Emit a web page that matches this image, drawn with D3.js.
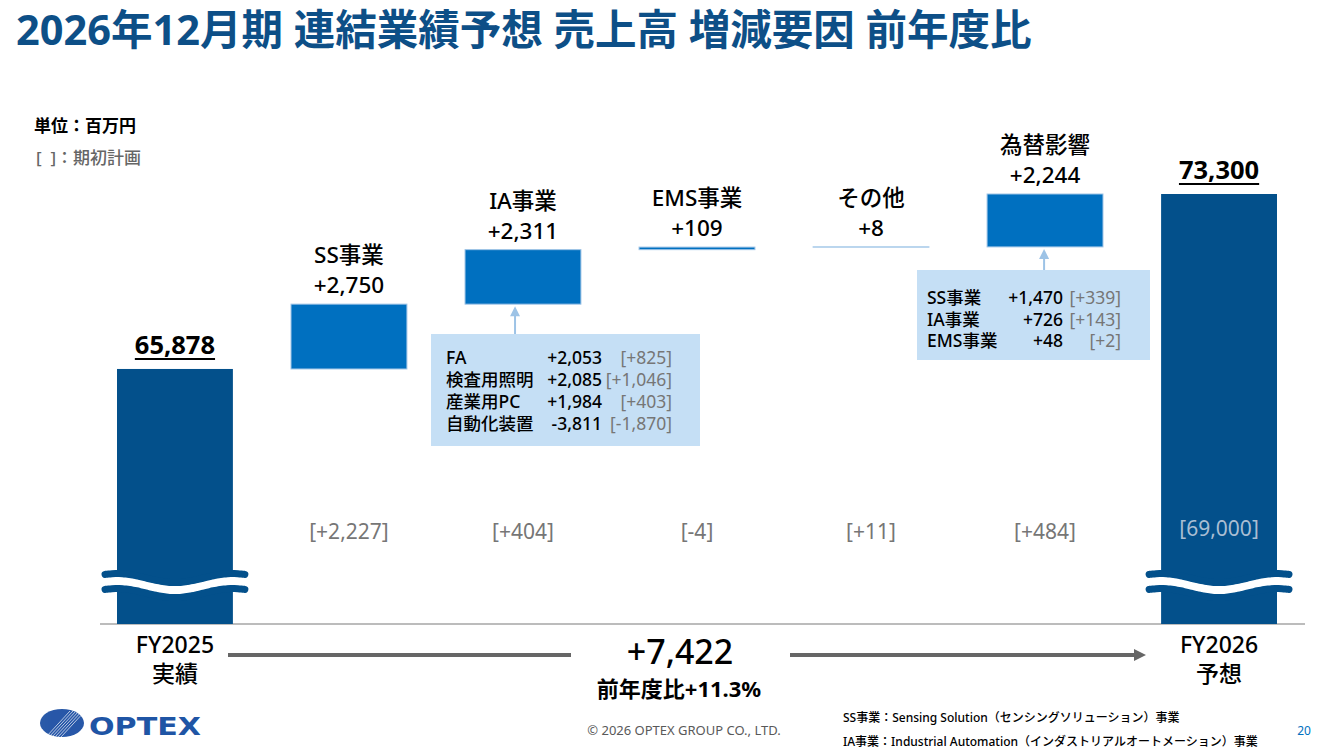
<!DOCTYPE html>
<html lang="ja">
<head>
<meta charset="utf-8">
<script src="https://cdn.jsdelivr.net/npm/d3@7"></script>
<style>
  html, body { margin: 0; padding: 0; background: #ffffff; }
  svg { display: block; }
  text { font-family: "Noto Sans", "Noto Sans CJK JP", sans-serif; }
</style>
</head>
<body>
<svg id="chart" width="1321" height="754"></svg>
<script>
// chart data
const categories = ["FY2025", "SS事業", "IA事業", "EMS事業", "その他", "為替影響", "FY2026"];
const bottomLabels = ["実績", null, null, null, null, null, "予想"];
const startTotal = 65878;
const endTotal = 73300;
const deltas = [null, 2750, 2311, 109, 8, 2244, null];
const planValues = [null, 2227, 404, -4, 11, 484, 69000];

// IA breakdown box
const iaSegments = ["FA", "検査用照明", "産業用PC", "自動化装置"];
const iaValues = [2053, 2085, 1984, -3811];
const iaPlan = [825, 1046, 403, -1870];

// FX breakdown box
const fxSegments = ["SS事業", "IA事業", "EMS事業"];
const fxValues = [1470, 726, 48];
const fxPlan = [339, 143, 2];

const totalChange = 7422;
const totalChangePct = 11.3;

const svg = d3.select("#chart");
const darkBlue = "#03508b";
const midBlue = "#0070c0";
const lightBlue = "#9dc3e6";
const boxFill = "#c5dff5";
const gray = "#767676";

// plain hyphen for negatives, like the slide
const locale = d3.formatLocale({ decimal: ".", thousands: ",", grouping: [3], currency: ["", ""], minus: "-" });
const fmt = locale.format(",");
const signed = v => (v >= 0 ? "+" : "") + fmt(v);

// scales
const x = d3.scaleBand()
    .domain(categories)
    .range([117, 1277])
    .paddingInner(0.334)
    .paddingOuter(0);

const y = d3.scaleLinear()
    .domain([55060, 73300])
    .range([624, 194]);

// build waterfall rows
let running = startTotal;
const rows = categories.map((c, i) => {
    if (i === 0) return { cat: c, lo: y.domain()[0], hi: startTotal, total: true, value: startTotal };
    if (i === categories.length - 1) return { cat: c, lo: y.domain()[0], hi: endTotal, total: true, value: endTotal };
    const lo = running;
    running += deltas[i];
    return { cat: c, lo: lo, hi: running, total: false, value: deltas[i] };
});

// title
svg.append("text")
    .attr("x", 16)
    .attr("y", 45)
    .text("2026年12月期 連結業績予想 売上高 増減要因 前年度比")
    .style("font-size", "41.5px")
    .style("font-weight", "bold")
    .style("fill", "#0d4f87");

// unit notes
svg.append("text")
    .attr("x", 34).attr("y", 132)
    .text("単位：百万円")
    .style("font-size", "17px")
    .style("font-weight", "bold")
    .style("fill", "#000");

svg.append("text")
    .attr("x", 36).attr("y", 164)
    .text("[\u00a0\u00a0]：期初計画")
    .style("font-size", "17px")
    .style("font-weight", "500")
    .style("fill", "#666");

// baseline
svg.append("line")
    .attr("x1", 100).attr("x2", 1305)
    .attr("y1", y.range()[0]).attr("y2", y.range()[0])
    .attr("stroke", "#a6a6a6")
    .attr("stroke-width", 1.5);

// bars
svg.selectAll("rect.bar")
    .data(rows)
    .join("rect")
    .attr("class", "bar")
    .attr("x", d => x(d.cat))
    .attr("width", x.bandwidth())
    .attr("y", d => y(d.hi))
    .attr("height", d => Math.abs(y(d.lo) - y(d.hi)))
    .attr("fill", d => d.total ? darkBlue : midBlue)
    .attr("stroke", d => d.total ? "none" : lightBlue)
    .attr("stroke-width", 1);

// wave break on the total bars
const waveLine = d3.line().curve(d3.curveBasis);
function wavePath(d, yc) {
    const x0 = x(d.cat), w = x.bandwidth(), cx = x0 + w / 2;
    const pts = d3.range(0, 41).map(k => {
        const px = x0 - 12 + (w + 24) * k / 40;
        return [px, yc + 4.5 * Math.cos(2 * Math.PI * (px - cx) / w)];
    });
    return waveLine(pts);
}
const totals = rows.filter(d => d.total);
totals.forEach(d => {
    svg.append("path").attr("d", wavePath(d, 585.5))
        .attr("fill", "none").attr("stroke", "#fff").attr("stroke-width", 9);
    [578, 593].forEach(yc => {
        svg.append("path").attr("d", wavePath(d, yc))
            .attr("fill", "none")
            .attr("stroke", darkBlue)
            .attr("stroke-width", 7)
            .attr("stroke-linecap", "round");
    });
});

// total value labels (underlined)
totals.forEach(d => {
    const cx = x(d.cat) + x.bandwidth() / 2;
    const t = svg.append("text")
        .attr("x", cx)
        .attr("y", y(d.hi) - 15)
        .attr("text-anchor", "middle")
        .text(fmt(d.value))
        .style("font-size", "25.5px")
        .style("font-weight", "bold")
        .style("fill", "#000");
    const tw = t.node().getComputedTextLength();
    svg.append("line")
        .attr("x1", cx - tw / 2).attr("x2", cx + tw / 2)
        .attr("y1", y(d.hi) - 10).attr("y2", y(d.hi) - 10)
        .attr("stroke", "#000").attr("stroke-width", 2);
});

// delta labels
const deltaRows = rows.filter(d => !d.total);
deltaRows.forEach(d => {
    const cx = x(d.cat) + x.bandwidth() / 2;
    const top = y(d.hi);
    svg.append("text")
        .attr("x", cx).attr("y", top - 41)
        .attr("text-anchor", "middle")
        .text(d.cat)
        .style("font-size", "22.5px")
        .style("font-weight", "500")
        .style("fill", "#000");
    svg.append("text")
        .attr("x", cx).attr("y", top - 11)
        .attr("text-anchor", "middle")
        .text(signed(d.value))
        .style("font-size", "22.5px")
        .style("font-weight", "500")
        .style("fill", "#000");
});

// plan labels
rows.forEach((d, i) => {
    if (planValues[i] === null) return;
    const cx = x(d.cat) + x.bandwidth() / 2;
    svg.append("text")
        .attr("x", cx)
        .attr("y", d.total ? 536 : 539)
        .attr("text-anchor", "middle")
        .text(d.total ? "[" + fmt(planValues[i]) + "]" : "[" + signed(planValues[i]) + "]")
        .style("font-size", "21px")
        .style("fill", d.total ? "#a9bed3" : gray);
});

// bottom category labels
rows.forEach((d, i) => {
    if (!d.total) return;
    const cx = x(d.cat) + x.bandwidth() / 2;
    svg.append("text")
        .attr("x", cx).attr("y", 653)
        .attr("text-anchor", "middle")
        .text(d.cat)
        .style("font-size", "23px").style("font-weight", "500").style("fill", "#000");
    svg.append("text")
        .attr("x", cx).attr("y", 682)
        .attr("text-anchor", "middle")
        .text(bottomLabels[i])
        .style("font-size", "23px").style("font-weight", "500").style("fill", "#000");
});

// total change arrow
const arrowY = 655;
svg.append("line")
    .attr("x1", 228).attr("x2", 571)
    .attr("y1", arrowY).attr("y2", arrowY)
    .attr("stroke", "#666").attr("stroke-width", 4);
svg.append("line")
    .attr("x1", 790).attr("x2", 1136)
    .attr("y1", arrowY).attr("y2", arrowY)
    .attr("stroke", "#666").attr("stroke-width", 4);
svg.append("polygon")
    .attr("points", [[1134, arrowY - 6], [1146, arrowY], [1134, arrowY + 6]].map(p => p.join(",")).join(" "))
    .attr("fill", "#666");

svg.append("text")
    .attr("x", 680).attr("y", 664)
    .attr("text-anchor", "middle")
    .text(signed(totalChange))
    .style("font-size", "34px").style("font-weight", "500").style("fill", "#000");
svg.append("text")
    .attr("x", 679).attr("y", 697)
    .attr("text-anchor", "middle")
    .text("前年度比+" + totalChangePct + "%")
    .style("font-size", "22px").style("font-weight", "bold").style("fill", "#000");

// breakdown boxes
function drawBreakdown(opts) {
    const g = svg.append("g");
    // connector with arrow to the bar bottom
    g.append("line")
        .attr("x1", opts.connX).attr("x2", opts.connX)
        .attr("y1", opts.box.y).attr("y2", opts.barBottom + 8)
        .attr("stroke", lightBlue).attr("stroke-width", 2);
    g.append("polygon")
        .attr("points", [[opts.connX - 5, opts.barBottom + 12], [opts.connX, opts.barBottom + 2], [opts.connX + 5, opts.barBottom + 12]]
            .map(p => p.join(",")).join(" "))
        .attr("fill", lightBlue);

    g.append("rect")
        .attr("x", opts.box.x).attr("y", opts.box.y)
        .attr("width", opts.box.w).attr("height", opts.box.h)
        .attr("fill", boxFill);

    opts.labels.forEach((lab, i) => {
        const ty = opts.firstY + i * opts.rowH;
        g.append("text")
            .attr("x", opts.labelX).attr("y", ty)
            .text(lab)
            .style("font-size", "17.5px").style("font-weight", "500").style("fill", "#000");
        g.append("text")
            .attr("x", opts.valueX).attr("y", ty)
            .attr("text-anchor", "end")
            .text(signed(opts.values[i]))
            .style("font-size", "17.5px").style("font-weight", "500").style("fill", "#000");
        g.append("text")
            .attr("x", opts.planX).attr("y", ty)
            .attr("text-anchor", "end")
            .text("[" + signed(opts.plan[i]) + "]")
            .style("font-size", "17.5px").style("fill", gray);
    });
}

const iaRow = rows[categories.indexOf("IA事業")];
drawBreakdown({
    connX: x(iaRow.cat) + 50,
    barBottom: y(iaRow.lo),
    box: { x: 431, y: 334, w: 269, h: 112 },
    labels: iaSegments, values: iaValues, plan: iaPlan,
    labelX: 446, valueX: 602, planX: 672,
    firstY: 364, rowH: 22
});

const fxRow = rows[categories.indexOf("為替影響")];
drawBreakdown({
    connX: x(fxRow.cat) + 57,
    barBottom: y(fxRow.lo),
    box: { x: 917, y: 270, w: 233, h: 90 },
    labels: fxSegments, values: fxValues, plan: fxPlan,
    labelX: 927, valueX: 1063, planX: 1121,
    firstY: 304, rowH: 21.5
});

// footer
svg.append("text")
    .attr("x", 684).attr("y", 735)
    .attr("text-anchor", "middle")
    .text("© 2026 OPTEX GROUP CO., LTD.")
    .style("font-size", "13px").style("fill", "#595959");

svg.append("text")
    .attr("x", 843).attr("y", 722)
    .text("SS事業：Sensing Solution（センシングソリューション）事業")
    .style("font-size", "12px").style("font-weight", "500").style("fill", "#000");
svg.append("text")
    .attr("x", 843).attr("y", 746)
    .text("IA事業：Industrial Automation（インダストリアルオートメーション）事業")
    .style("font-size", "12px").style("font-weight", "500").style("fill", "#000");

svg.append("text")
    .attr("x", 1304).attr("y", 735)
    .attr("text-anchor", "middle")
    .text("20")
    .style("font-size", "12px").style("fill", midBlue);

// logo
const logo = svg.append("g");
logo.append("clipPath").attr("id", "logoClip")
    .append("ellipse").attr("cx", 62).attr("cy", 723).attr("rx", 22).attr("ry", 14);
logo.append("ellipse")
    .attr("cx", 62).attr("cy", 723).attr("rx", 22).attr("ry", 14)
    .attr("fill", "#2a5aa8");
const stripes = logo.append("g").attr("clip-path", "url(#logoClip)");
d3.range(6).forEach(k => {
    stripes.append("line")
        .attr("x1", 46 + k * 3).attr("y1", 737)
        .attr("x2", 70 + k * 3).attr("y2", 711)
        .attr("stroke", "#fff").attr("stroke-width", 0.8).attr("opacity", 0.85);
});
logo.append("text")
    .attr("x", 89).attr("y", 735)
    .attr("textLength", 112)
    .attr("lengthAdjust", "spacingAndGlyphs")
    .text("OPTEX")
    .style("font-family", "'DejaVu Sans', sans-serif")
    .style("font-size", "25px")
    .style("font-weight", "bold")
    .style("fill", "#1f55a5");
</script>
</body>
</html>
